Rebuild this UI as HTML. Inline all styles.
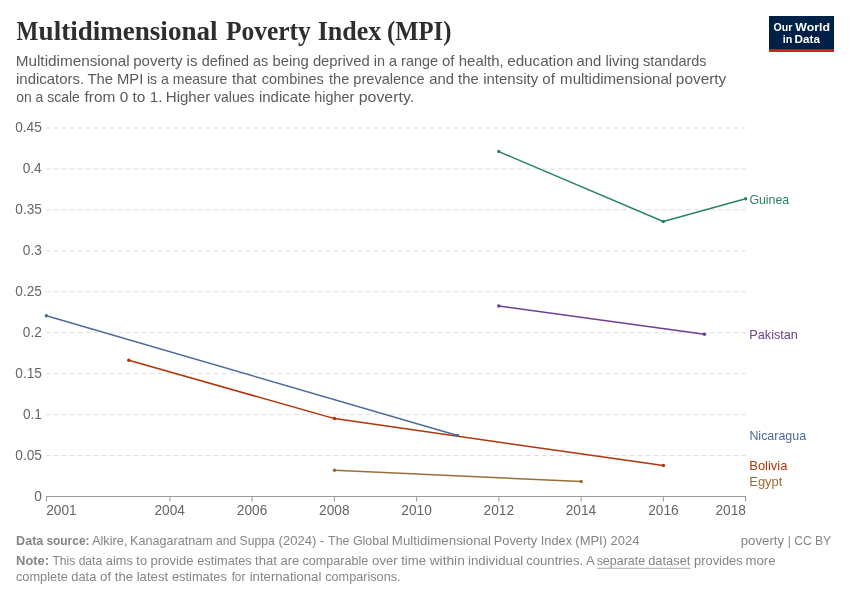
<!DOCTYPE html>
<html lang="en"><head><meta charset="utf-8"><title>Multidimensional Poverty Index (MPI)</title>
<style>html,body{margin:0;padding:0;background:#fff;}svg{display:block;}text{white-space:pre;}</style></head><body>
<svg width="850" height="600" viewBox="0 0 850 600" role="img" aria-label="Multidimensional Poverty Index (MPI) line chart">
<rect width="850" height="600" fill="#ffffff"/>
<g id="logo"><rect x="769" y="16" width="65" height="36" fill="#002147"/><rect x="769" y="49.2" width="65" height="2.8" fill="#ce261e"/></g>
<g id="grid">
<line x1="46" y1="455.56" x2="745.6" y2="455.56" stroke="#dddddd" stroke-width="1" stroke-dasharray="4.8 3.2"/>
<line x1="46" y1="414.61" x2="745.6" y2="414.61" stroke="#dddddd" stroke-width="1" stroke-dasharray="4.8 3.2"/>
<line x1="46" y1="373.66" x2="745.6" y2="373.66" stroke="#dddddd" stroke-width="1" stroke-dasharray="4.8 3.2"/>
<line x1="46" y1="332.72" x2="745.6" y2="332.72" stroke="#dddddd" stroke-width="1" stroke-dasharray="4.8 3.2"/>
<line x1="46" y1="291.77" x2="745.6" y2="291.77" stroke="#dddddd" stroke-width="1" stroke-dasharray="4.8 3.2"/>
<line x1="46" y1="250.83" x2="745.6" y2="250.83" stroke="#dddddd" stroke-width="1" stroke-dasharray="4.8 3.2"/>
<line x1="46" y1="209.88" x2="745.6" y2="209.88" stroke="#dddddd" stroke-width="1" stroke-dasharray="4.8 3.2"/>
<line x1="46" y1="168.94" x2="745.6" y2="168.94" stroke="#dddddd" stroke-width="1" stroke-dasharray="4.8 3.2"/>
<line x1="46" y1="128.00" x2="745.6" y2="128.00" stroke="#dddddd" stroke-width="1" stroke-dasharray="4.8 3.2"/>
</g><g id="axis">
<line x1="46" y1="496.50" x2="746.1" y2="496.50" stroke="#999999" stroke-width="1"/>
<line x1="46.50" y1="496.50" x2="46.50" y2="501.50" stroke="#999999" stroke-width="1"/>
<line x1="169.87" y1="496.50" x2="169.87" y2="501.50" stroke="#999999" stroke-width="1"/>
<line x1="252.12" y1="496.50" x2="252.12" y2="501.50" stroke="#999999" stroke-width="1"/>
<line x1="334.36" y1="496.50" x2="334.36" y2="501.50" stroke="#999999" stroke-width="1"/>
<line x1="416.61" y1="496.50" x2="416.61" y2="501.50" stroke="#999999" stroke-width="1"/>
<line x1="498.86" y1="496.50" x2="498.86" y2="501.50" stroke="#999999" stroke-width="1"/>
<line x1="581.11" y1="496.50" x2="581.11" y2="501.50" stroke="#999999" stroke-width="1"/>
<line x1="663.35" y1="496.50" x2="663.35" y2="501.50" stroke="#999999" stroke-width="1"/>
<line x1="745.60" y1="496.50" x2="745.60" y2="501.50" stroke="#999999" stroke-width="1"/>
</g><g id="lines">
<polyline fill="none" stroke="#b13507" stroke-width="1.5" stroke-linejoin="round" points="128.8,360.3 334.5,418.6 663.4,465.6"/>
<circle cx="128.8" cy="360.3" r="1.75" fill="#b13507"/>
<circle cx="334.5" cy="418.6" r="1.75" fill="#b13507"/>
<circle cx="663.4" cy="465.6" r="1.75" fill="#b13507"/>
<polyline fill="none" stroke="#4c6a9c" stroke-width="1.5" stroke-linejoin="round" points="46.4,315.7 457.5,435.5"/>
<circle cx="46.4" cy="315.7" r="1.75" fill="#4c6a9c"/>
<circle cx="457.5" cy="435.5" r="1.75" fill="#4c6a9c"/>
<polyline fill="none" stroke="#996d39" stroke-width="1.5" stroke-linejoin="round" points="334.5,470.3 581.2,481.5"/>
<circle cx="334.5" cy="470.3" r="1.75" fill="#996d39"/>
<circle cx="581.2" cy="481.5" r="1.75" fill="#996d39"/>
<polyline fill="none" stroke="#6d3e91" stroke-width="1.5" stroke-linejoin="round" points="498.8,306.0 704.4,334.3"/>
<circle cx="498.8" cy="306.0" r="1.75" fill="#6d3e91"/>
<circle cx="704.4" cy="334.3" r="1.75" fill="#6d3e91"/>
<polyline fill="none" stroke="#2c8465" stroke-width="1.5" stroke-linejoin="round" points="498.8,151.6 663.3,221.5 745.6,198.7"/>
<circle cx="498.8" cy="151.6" r="1.75" fill="#2c8465"/>
<circle cx="663.3" cy="221.5" r="1.75" fill="#2c8465"/>
<circle cx="745.6" cy="198.7" r="1.75" fill="#2c8465"/>
</g>
<line x1="597.1" y1="568.3" x2="690.4" y2="568.3" stroke="#a8a8a8" stroke-width="1"/>
<text id="title" y="39.70" font-family="'Liberation Serif', serif" font-weight="bold" font-size="26.5" fill="#2e2e2e"><tspan x="16.60" textLength="21.81" lengthAdjust="spacingAndGlyphs">M</tspan><tspan x="38.58" textLength="178.93" lengthAdjust="spacingAndGlyphs">ultidimensional</tspan> <tspan x="225.95" textLength="84.84" lengthAdjust="spacingAndGlyphs">Poverty</tspan> <tspan x="317.72" textLength="63.52" lengthAdjust="spacingAndGlyphs">Index</tspan> <tspan x="387.00" textLength="64.42" lengthAdjust="spacingAndGlyphs">(MPI)</tspan></text>
<text id="sub1" y="66.40" font-family="'Liberation Sans', sans-serif" font-weight="normal" font-size="14.5" fill="#5b5b5b"><tspan x="15.73" textLength="113.97" lengthAdjust="spacingAndGlyphs">Multidimensional</tspan> <tspan x="133.19" textLength="64.26" lengthAdjust="spacingAndGlyphs">poverty is</tspan> <tspan x="201.84" textLength="66.37" lengthAdjust="spacingAndGlyphs">defined as</tspan> <tspan x="272.56" textLength="97.13" lengthAdjust="spacingAndGlyphs">being deprived</tspan> <tspan x="373.86" textLength="64.14" lengthAdjust="spacingAndGlyphs">in a range</tspan> <tspan x="441.98" textLength="61.84" lengthAdjust="spacingAndGlyphs">of health,</tspan> <tspan x="507.18" textLength="65.96" lengthAdjust="spacingAndGlyphs">education</tspan> <tspan x="576.52" textLength="62.78" lengthAdjust="spacingAndGlyphs">and living</tspan> <tspan x="643.09" textLength="63.50" lengthAdjust="spacingAndGlyphs">standards</tspan></text>
<text id="sub2" y="84.40" font-family="'Liberation Sans', sans-serif" font-weight="normal" font-size="14.5" fill="#5b5b5b"><tspan x="16.00" textLength="68.10" lengthAdjust="spacingAndGlyphs">indicators.</tspan> <tspan x="87.40" textLength="55.90" lengthAdjust="spacingAndGlyphs">The MPI</tspan> <tspan x="146.98" textLength="80.47" lengthAdjust="spacingAndGlyphs">is a measure</tspan> <tspan x="232.08" textLength="24.62" lengthAdjust="spacingAndGlyphs">that</tspan> <tspan x="261.84" textLength="61.93" lengthAdjust="spacingAndGlyphs">combines</tspan> <tspan x="329.06" textLength="95.54" lengthAdjust="spacingAndGlyphs">the prevalence</tspan> <tspan x="429.29" textLength="49.45" lengthAdjust="spacingAndGlyphs">and the</tspan> <tspan x="483.20" textLength="71.65" lengthAdjust="spacingAndGlyphs">intensity of</tspan> <tspan x="560.12" textLength="112.07" lengthAdjust="spacingAndGlyphs">multidimensional</tspan> <tspan x="675.89" textLength="50.37" lengthAdjust="spacingAndGlyphs">poverty</tspan></text>
<text id="sub3" y="102.40" font-family="'Liberation Sans', sans-serif" font-weight="normal" font-size="14.5" fill="#5b5b5b"><tspan x="16.19" textLength="63.65" lengthAdjust="spacingAndGlyphs">on a scale</tspan> <tspan x="84.56" textLength="77.98" lengthAdjust="spacingAndGlyphs">from 0 to 1.</tspan> <tspan x="165.75" textLength="44.41" lengthAdjust="spacingAndGlyphs">Higher</tspan> <tspan x="214.10" textLength="40.32" lengthAdjust="spacingAndGlyphs">values</tspan> <tspan x="259.01" textLength="51.44" lengthAdjust="spacingAndGlyphs">indicate</tspan> <tspan x="314.22" textLength="39.97" lengthAdjust="spacingAndGlyphs">higher</tspan> <tspan x="358.76" textLength="55.32" lengthAdjust="spacingAndGlyphs">poverty.</tspan></text>
<text id="logo1" y="30.60" font-family="'Liberation Sans', sans-serif" font-weight="bold" font-size="11.6" fill="#ffffff"><tspan x="773.50" textLength="18.85" lengthAdjust="spacingAndGlyphs">Our</tspan> <tspan x="795.38" textLength="34.62" lengthAdjust="spacingAndGlyphs">World</tspan></text>
<text id="logo2" y="42.50" font-family="'Liberation Sans', sans-serif" font-weight="bold" font-size="11.6" fill="#ffffff"><tspan x="782.64" textLength="9.62" lengthAdjust="spacingAndGlyphs">in</tspan> <tspan x="794.56" textLength="25.38" lengthAdjust="spacingAndGlyphs">Data</tspan></text>
<text id="y0" y="500.90" font-family="'Liberation Sans', sans-serif" font-weight="normal" font-size="14" fill="#666666"><tspan x="34.24" textLength="7.63" lengthAdjust="spacingAndGlyphs">0</tspan></text>
<text id="y0.05" y="459.95" font-family="'Liberation Sans', sans-serif" font-weight="normal" font-size="14" fill="#666666"><tspan x="15.29" textLength="26.66" lengthAdjust="spacingAndGlyphs">0.05</tspan></text>
<text id="y0.1" y="419.01" font-family="'Liberation Sans', sans-serif" font-weight="normal" font-size="14" fill="#666666"><tspan x="22.96" textLength="19.04" lengthAdjust="spacingAndGlyphs">0.1</tspan></text>
<text id="y0.15" y="378.06" font-family="'Liberation Sans', sans-serif" font-weight="normal" font-size="14" fill="#666666"><tspan x="15.29" textLength="26.66" lengthAdjust="spacingAndGlyphs">0.15</tspan></text>
<text id="y0.2" y="337.12" font-family="'Liberation Sans', sans-serif" font-weight="normal" font-size="14" fill="#666666"><tspan x="22.81" textLength="19.04" lengthAdjust="spacingAndGlyphs">0.2</tspan></text>
<text id="y0.25" y="296.17" font-family="'Liberation Sans', sans-serif" font-weight="normal" font-size="14" fill="#666666"><tspan x="15.29" textLength="26.66" lengthAdjust="spacingAndGlyphs">0.25</tspan></text>
<text id="y0.3" y="255.23" font-family="'Liberation Sans', sans-serif" font-weight="normal" font-size="14" fill="#666666"><tspan x="22.80" textLength="19.04" lengthAdjust="spacingAndGlyphs">0.3</tspan></text>
<text id="y0.35" y="214.28" font-family="'Liberation Sans', sans-serif" font-weight="normal" font-size="14" fill="#666666"><tspan x="15.29" textLength="26.66" lengthAdjust="spacingAndGlyphs">0.35</tspan></text>
<text id="y0.4" y="173.34" font-family="'Liberation Sans', sans-serif" font-weight="normal" font-size="14" fill="#666666"><tspan x="22.69" textLength="19.04" lengthAdjust="spacingAndGlyphs">0.4</tspan></text>
<text id="y0.45" y="132.40" font-family="'Liberation Sans', sans-serif" font-weight="normal" font-size="14" fill="#666666"><tspan x="15.19" textLength="26.66" lengthAdjust="spacingAndGlyphs">0.45</tspan></text>
<text id="x2001" y="514.80" font-family="'Liberation Sans', sans-serif" font-weight="normal" font-size="14" fill="#666666"><tspan x="46.13" textLength="30.54" lengthAdjust="spacingAndGlyphs">2001</tspan></text>
<text id="x2004" y="514.80" font-family="'Liberation Sans', sans-serif" font-weight="normal" font-size="14" fill="#666666"><tspan x="154.47" textLength="30.54" lengthAdjust="spacingAndGlyphs">2004</tspan></text>
<text id="x2006" y="514.80" font-family="'Liberation Sans', sans-serif" font-weight="normal" font-size="14" fill="#666666"><tspan x="236.83" textLength="30.54" lengthAdjust="spacingAndGlyphs">2006</tspan></text>
<text id="x2008" y="514.80" font-family="'Liberation Sans', sans-serif" font-weight="normal" font-size="14" fill="#666666"><tspan x="319.12" textLength="30.54" lengthAdjust="spacingAndGlyphs">2008</tspan></text>
<text id="x2010" y="514.80" font-family="'Liberation Sans', sans-serif" font-weight="normal" font-size="14" fill="#666666"><tspan x="401.35" textLength="30.54" lengthAdjust="spacingAndGlyphs">2010</tspan></text>
<text id="x2012" y="514.80" font-family="'Liberation Sans', sans-serif" font-weight="normal" font-size="14" fill="#666666"><tspan x="483.62" textLength="30.54" lengthAdjust="spacingAndGlyphs">2012</tspan></text>
<text id="x2014" y="514.80" font-family="'Liberation Sans', sans-serif" font-weight="normal" font-size="14" fill="#666666"><tspan x="565.71" textLength="30.54" lengthAdjust="spacingAndGlyphs">2014</tspan></text>
<text id="x2016" y="514.80" font-family="'Liberation Sans', sans-serif" font-weight="normal" font-size="14" fill="#666666"><tspan x="648.13" textLength="30.54" lengthAdjust="spacingAndGlyphs">2016</tspan></text>
<text id="x2018" y="514.80" font-family="'Liberation Sans', sans-serif" font-weight="normal" font-size="14" fill="#666666"><tspan x="715.44" textLength="30.54" lengthAdjust="spacingAndGlyphs">2018</tspan></text>
<text id="lGuinea" y="203.60" font-family="'Liberation Sans', sans-serif" font-weight="normal" font-size="13.2" fill="#2c8465"><tspan x="749.39" textLength="39.88" lengthAdjust="spacingAndGlyphs">Guinea</tspan></text>
<text id="lPakistan" y="338.90" font-family="'Liberation Sans', sans-serif" font-weight="normal" font-size="13.2" fill="#6d3e91"><tspan x="749.33" textLength="48.57" lengthAdjust="spacingAndGlyphs">Pakistan</tspan></text>
<text id="lNicaragua" y="440.30" font-family="'Liberation Sans', sans-serif" font-weight="normal" font-size="13.2" fill="#4c6a9c"><tspan x="749.38" textLength="56.75" lengthAdjust="spacingAndGlyphs">Nicaragua</tspan></text>
<text id="lBolivia" y="470.20" font-family="'Liberation Sans', sans-serif" font-weight="normal" font-size="13.2" fill="#b13507"><tspan x="749.23" textLength="38.26" lengthAdjust="spacingAndGlyphs">Bolivia</tspan></text>
<text id="lEgypt" y="486.00" font-family="'Liberation Sans', sans-serif" font-weight="normal" font-size="13.2" fill="#996d39"><tspan x="749.26" textLength="33.08" lengthAdjust="spacingAndGlyphs">Egypt</tspan></text>
<text id="f1" y="545.20" font-family="'Liberation Sans', sans-serif" font-weight="normal" font-size="12.6" fill="#858585"><tspan x="16.12" textLength="27.23" lengthAdjust="spacingAndGlyphs" font-weight="bold">Data</tspan> <tspan x="46.40" textLength="43.15" lengthAdjust="spacingAndGlyphs" font-weight="bold">source:</tspan> <tspan x="91.92" textLength="35.62" lengthAdjust="spacingAndGlyphs">Alkire,</tspan> <tspan x="130.07" textLength="82.71" lengthAdjust="spacingAndGlyphs">Kanagaratnam</tspan> <tspan x="215.93" textLength="58.73" lengthAdjust="spacingAndGlyphs">and Suppa</tspan> <tspan x="278.55" textLength="45.89" lengthAdjust="spacingAndGlyphs">(2024) -</tspan> <tspan x="328.11" textLength="60.69" lengthAdjust="spacingAndGlyphs">The Global</tspan> <tspan x="391.86" textLength="99.02" lengthAdjust="spacingAndGlyphs">Multidimensional</tspan> <tspan x="493.79" textLength="78.33" lengthAdjust="spacingAndGlyphs">Poverty Index</tspan> <tspan x="575.33" textLength="64.11" lengthAdjust="spacingAndGlyphs">(MPI) 2024</tspan></text>
<text id="f1r" y="545.20" font-family="'Liberation Sans', sans-serif" font-weight="normal" font-size="12.6" fill="#858585"><tspan x="740.72" textLength="43.45" lengthAdjust="spacingAndGlyphs">poverty</tspan> <tspan x="787.68" textLength="43.42" lengthAdjust="spacingAndGlyphs">| CC BY</tspan></text>
<text id="f2" y="565.20" font-family="'Liberation Sans', sans-serif" font-weight="normal" font-size="12.6" fill="#858585"><tspan x="16.02" textLength="33.14" lengthAdjust="spacingAndGlyphs" font-weight="bold">Note:</tspan> <tspan x="52.42" textLength="49.78" lengthAdjust="spacingAndGlyphs">This data</tspan> <tspan x="105.83" textLength="41.18" lengthAdjust="spacingAndGlyphs">aims to</tspan> <tspan x="150.48" textLength="43.03" lengthAdjust="spacingAndGlyphs">provide</tspan> <tspan x="197.19" textLength="54.57" lengthAdjust="spacingAndGlyphs">estimates</tspan> <tspan x="255.14" textLength="44.26" lengthAdjust="spacingAndGlyphs">that are</tspan> <tspan x="302.47" textLength="65.85" lengthAdjust="spacingAndGlyphs">comparable</tspan> <tspan x="372.14" textLength="53.84" lengthAdjust="spacingAndGlyphs">over time</tspan> <tspan x="429.69" textLength="35.10" lengthAdjust="spacingAndGlyphs">within</tspan> <tspan x="467.95" textLength="55.36" lengthAdjust="spacingAndGlyphs">individual</tspan> <tspan x="526.17" textLength="67.91" lengthAdjust="spacingAndGlyphs">countries. A</tspan> <tspan x="596.63" textLength="48.48" lengthAdjust="spacingAndGlyphs">separate</tspan> <tspan x="648.23" textLength="42.19" lengthAdjust="spacingAndGlyphs">dataset</tspan> <tspan x="694.06" textLength="48.60" lengthAdjust="spacingAndGlyphs">provides</tspan> <tspan x="745.61" textLength="29.92" lengthAdjust="spacingAndGlyphs">more</tspan></text>
<text id="f3" y="580.50" font-family="'Liberation Sans', sans-serif" font-weight="normal" font-size="12.6" fill="#858585"><tspan x="15.93" textLength="80.35" lengthAdjust="spacingAndGlyphs">complete data</tspan> <tspan x="100.14" textLength="68.02" lengthAdjust="spacingAndGlyphs">of the latest</tspan> <tspan x="171.94" textLength="54.89" lengthAdjust="spacingAndGlyphs">estimates</tspan> <tspan x="231.64" textLength="13.65" lengthAdjust="spacingAndGlyphs">for</tspan> <tspan x="249.68" textLength="71.70" lengthAdjust="spacingAndGlyphs">international</tspan> <tspan x="325.24" textLength="75.31" lengthAdjust="spacingAndGlyphs">comparisons.</tspan></text>
</svg></body></html>
